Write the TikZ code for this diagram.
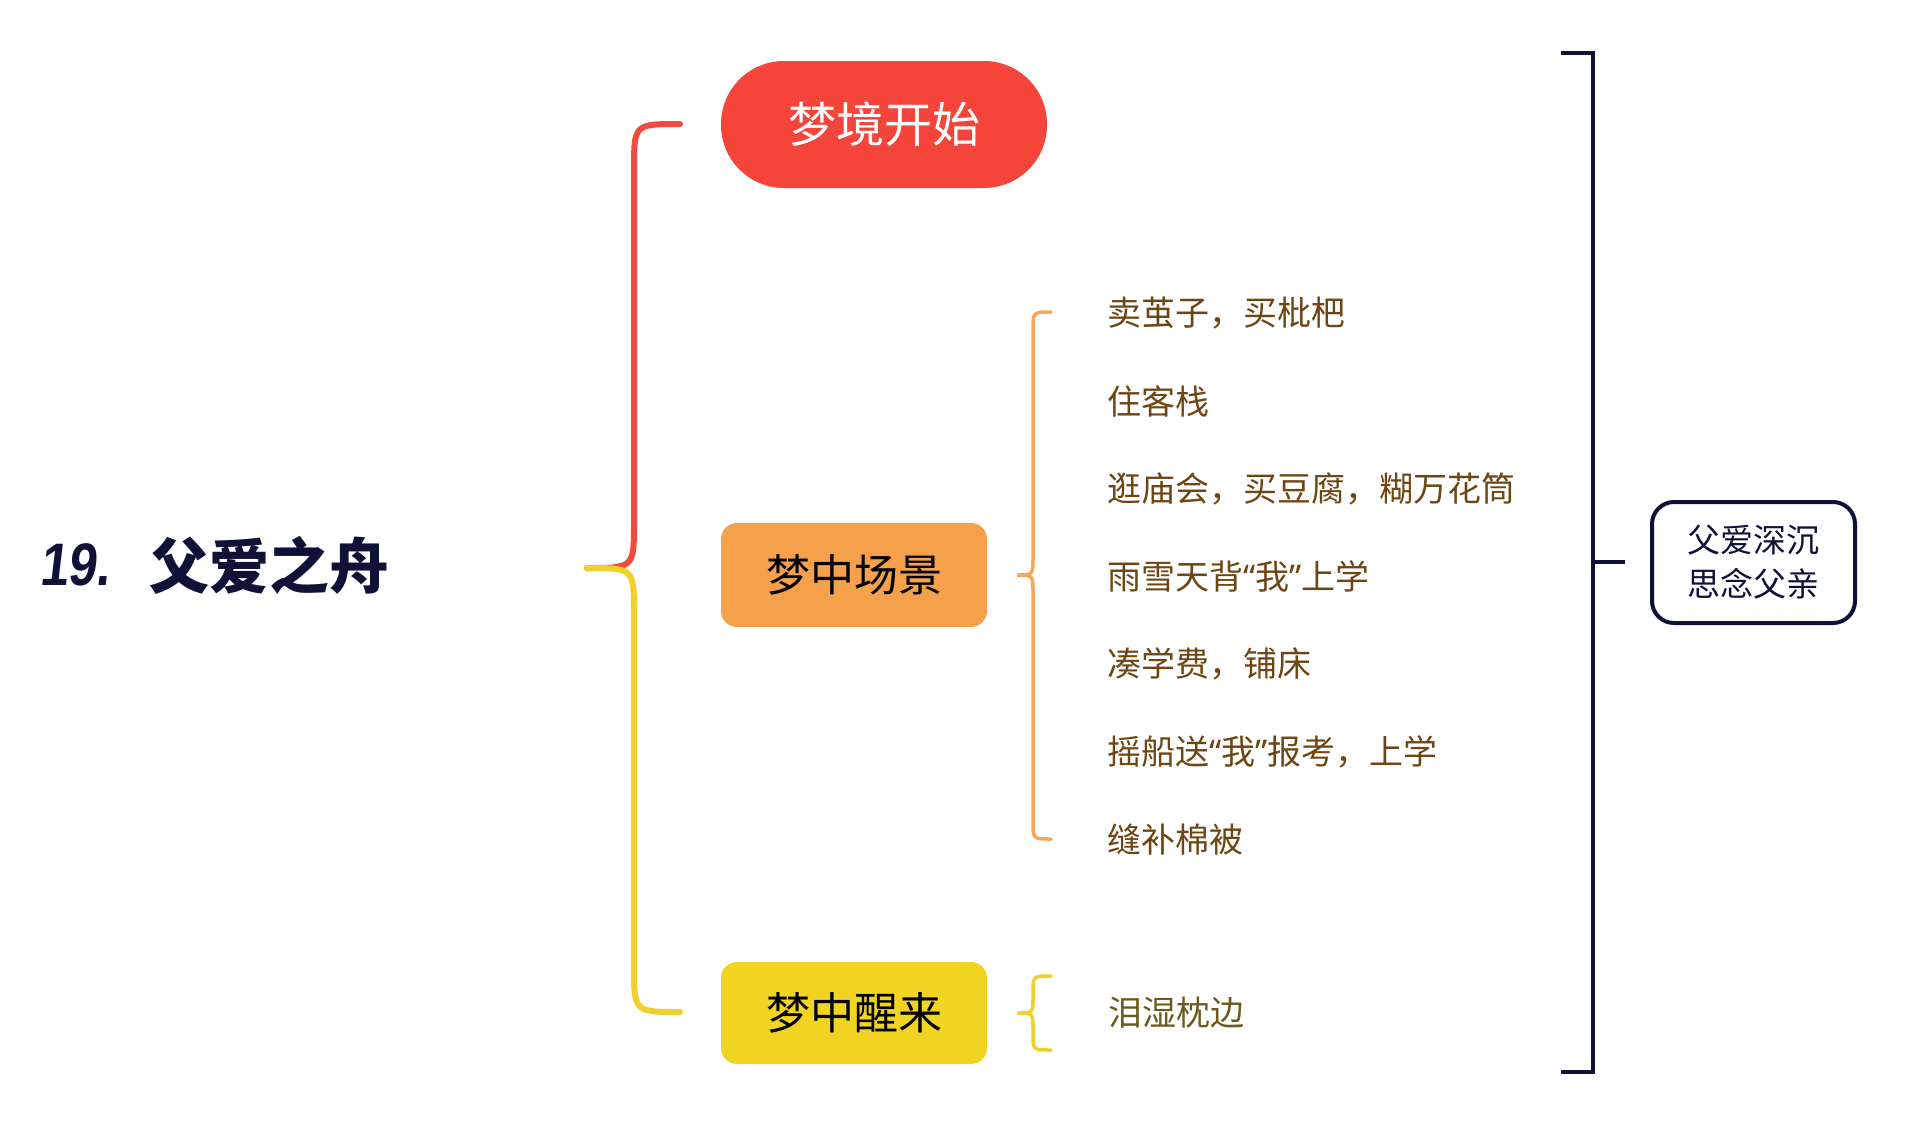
\documentclass[tikz,border=0pt]{standalone}
\usepackage{fontspec}
\newfontfamily\cjk{Noto Sans CJK SC}
\newfontfamily\latinq{Noto Sans}
\newfontfamily\titlenum{Liberation Sans}[FakeSlant=0.12, FakeStretch=0.85]
\newcommand\myoq{{\latinq “}}
\newcommand\mycq{{\latinq ”}}
\definecolor{cRed}{HTML}{F5443A}
\definecolor{cOrange}{HTML}{F5A04A}
\definecolor{cYellow}{HTML}{F1D422}
\definecolor{bRed}{HTML}{F14A3F}
\definecolor{bOrange}{HTML}{F5A75C}
\definecolor{bYellow}{HTML}{F0D02E}
\definecolor{cNavy}{HTML}{0F1236}
\definecolor{cBrown}{HTML}{6E4613}
\definecolor{cOlive}{HTML}{6B5A1E}
\begin{document}
\begin{tikzpicture}[x=1pt,y=-1pt,
  mainnode/.style={inner sep=0pt, font=\cjk\fontsize{44}{50}\selectfont},
  item/.style={anchor=west, inner sep=0pt, text=cBrown, font=\cjk\fontsize{34}{40}\selectfont},
  bigbrace/.style={line width=6pt, line cap=round},
  smallbrace/.style={line width=3.5pt, line cap=round},
  bracketline/.style={line width=4pt, draw=cNavy}
]
\useasboundingbox[fill=white] (0,0) rectangle (1920,1130);

% title
\node[anchor=west, inner sep=0pt, text=cNavy, font=\titlenum\bfseries\fontsize{60}{66}\selectfont]
  (num) at (39,565) {19.};
\node[anchor=west, inner sep=0pt, text=cNavy, font=\cjk\bfseries\fontsize{60}{66}\selectfont]
  (title) at (149,565) {父爱之舟};

% main nodes
\node[mainnode, fill=cRed, text=white, minimum width=326pt, minimum height=127pt,
  rounded corners=63pt, font=\cjk\fontsize{48}{54}\selectfont] (start) at (884,124.5) {梦境开始};
\node[mainnode, fill=cOrange, text=black, minimum width=266pt, minimum height=104pt,
  rounded corners=16pt] (scene) at (854,575) {梦中场景};
\node[mainnode, fill=cYellow, text=black, minimum width=266pt, minimum height=102pt,
  rounded corners=16pt] (wake) at (854,1013) {梦中醒来};

% main brace
\coordinate (mtip) at (587,568);
\coordinate (mtop) at (680,124);
\coordinate (mbot) at (680,1012);
\draw[bigbrace, draw=bRed] (mtop) .. controls (634,124) .. (634,170) -- (634,522)
  .. controls (634,568) .. (mtip);
\draw[bigbrace, draw=bYellow] (mtip) .. controls (634,568) .. (634,614) -- (634,966)
  .. controls (634,1012) .. (mbot);

% scene items
\node[item] (i1) at (1107,313) {卖茧子，买枇杷};
\node[item] (i2) at (1107,401) {住客栈};
\node[item] (i3) at (1107,489) {逛庙会，买豆腐，糊万花筒};
\node[item] (i4) at (1107,576) {雨雪天背\myoq 我\mycq 上学};
\node[item] (i5) at (1107,664) {凑学费，铺床};
\node[item] (i6) at (1107,752) {摇船送\myoq 我\mycq 报考，上学};
\node[item] (i7) at (1107,839) {缝补棉被};

% orange brace
\coordinate (otop) at (1051,312);
\coordinate (otip) at (1017,575);
\coordinate (obot) at (1051,839);
\draw[smallbrace, draw=bOrange] (otop) .. controls (1033,312) .. (1033,330) -- (1033,557)
  .. controls (1033,575) .. (otip) .. controls (1033,575) .. (1033,593) -- (1033,821)
  .. controls (1033,839) .. (obot);

% wake item
\node[item, text=cOlive] (w1) at (1108,1013) {泪湿枕边};
\coordinate (ytop) at (1051,976);
\coordinate (ytip) at (1017,1013);
\coordinate (ybot) at (1051,1050);
\draw[smallbrace, draw=bYellow] (ytop) .. controls (1033,976) .. (1033,992) -- (1033,997)
  .. controls (1033,1013) .. (ytip) .. controls (1033,1013) .. (1033,1029) -- (1033,1034)
  .. controls (1033,1050) .. (ybot);

% big bracket
\coordinate (btl) at (1561,53);
\coordinate (btr) at (1593,53);
\coordinate (bbr) at (1593,1072);
\coordinate (bbl) at (1561,1072);
\coordinate (bmid) at (1593,562);
\draw[bracketline] (btl) -- (btr) -- (bbr) -- (bbl);

% summary box
\node[draw=cNavy, line width=4pt, rounded corners=22pt, minimum width=203pt, minimum height=121pt,
  inner sep=0pt, align=center, text=cNavy, font=\cjk\fontsize{33}{44}\selectfont] (sum) at (1753.5,562.5)
  {父爱深沉\\思念父亲};
\coordinate (tickend) at (1625,562);
\draw[bracketline] (bmid) -- (tickend);
\end{tikzpicture}
\end{document}
